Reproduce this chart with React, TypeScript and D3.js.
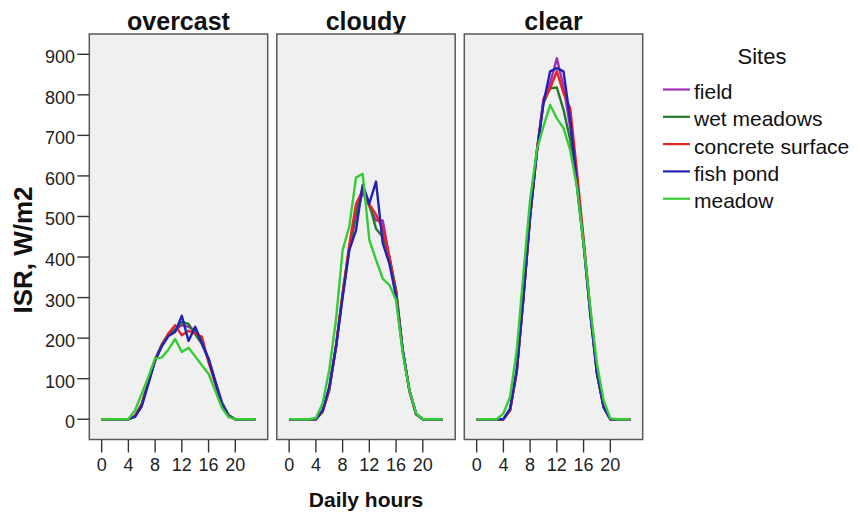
import * as d3 from 'd3';

const WIDTH = 862, HEIGHT = 515;

const hours = [0, 1, 2, 3, 4, 5, 6, 7, 8, 9, 10, 11, 12, 13, 14, 15, 16, 17, 18, 19, 20, 21, 22, 23];
const conditions = ['overcast', 'cloudy', 'clear'];
const sites = ['field', 'wet meadows', 'concrete surface', 'fish pond', 'meadow'];
const siteColors = ['#a02cb8', '#1e7a24', '#ea2228', '#2222b4', '#34cc34'];
const yTicks = [0, 100, 200, 300, 400, 500, 600, 700, 800, 900];
const xTicks = [0, 4, 8, 12, 16, 20];

// ISR by hour, one row per site
const overcast = [
    [0, 0, 0, 0, 0, 8, 38, 92, 145, 182, 208, 222, 232, 228, 218, 188, 150, 95, 42, 10, 0, 0, 0, 0],
    [0, 0, 0, 0, 0, 8, 38, 92, 148, 185, 210, 220, 240, 235, 210, 185, 148, 92, 40, 10, 0, 0, 0, 0],
    [0, 0, 0, 0, 0, 8, 36, 90, 145, 182, 212, 232, 207, 218, 212, 203, 140, 88, 36, 8, 0, 0, 0, 0],
    [0, 0, 0, 0, 0, 6, 32, 88, 145, 180, 205, 215, 255, 193, 228, 188, 148, 92, 38, 8, 0, 0, 0, 0],
    [0, 0, 0, 0, 0, 22, 63, 105, 150, 152, 172, 198, 166, 176, 155, 133, 112, 70, 28, 5, 0, 0, 0, 0],
];
const cloudy = [
    [0, 0, 0, 0, 0, 18, 72, 175, 305, 420, 500, 560, 525, 490, 490, 400, 315, 170, 70, 12, 0, 0, 0, 0],
    [0, 0, 0, 0, 0, 18, 72, 178, 310, 425, 510, 570, 530, 470, 450, 400, 320, 170, 70, 12, 0, 0, 0, 0],
    [0, 0, 0, 0, 0, 20, 75, 180, 310, 430, 530, 565, 530, 505, 470, 400, 310, 168, 70, 12, 0, 0, 0, 0],
    [0, 0, 0, 0, 0, 22, 80, 178, 300, 417, 466, 578, 532, 586, 434, 384, 302, 170, 72, 14, 0, 0, 0, 0],
    [0, 0, 0, 0, 3, 39, 121, 244, 417, 475, 596, 605, 442, 393, 347, 331, 294, 162, 72, 14, 0, 0, 0, 0],
];
const clear = [
    [0, 0, 0, 0, 0, 22, 118, 300, 500, 660, 790, 829, 890, 820, 720, 590, 440, 265, 115, 30, 0, 0, 0, 0],
    [0, 0, 0, 0, 0, 22, 118, 300, 500, 660, 780, 816, 818, 763, 689, 575, 430, 262, 112, 30, 0, 0, 0, 0],
    [0, 0, 0, 0, 0, 22, 118, 300, 500, 660, 785, 816, 858, 804, 767, 613, 445, 270, 118, 30, 0, 0, 0, 0],
    [0, 0, 0, 0, 0, 26, 121, 302, 500, 656, 780, 858, 866, 858, 738, 582, 434, 261, 113, 30, 0, 0, 0, 0],
    [0, 0, 0, 0, 14, 55, 170, 360, 541, 664, 722, 775, 742, 718, 664, 574, 434, 277, 137, 47, 2, 0, 0, 0],
];
const panels = [overcast, cloudy, clear];

const FONT = '"Liberation Sans", Arial, sans-serif';
const panelW = 178.4, panelStep = 187.5, panelLeft = 89.3;
const top = 34, bottom = 439.5;

const y = d3.scaleLinear().domain([-50, 950]).range([bottom, top]);

const App = () => {
    return (
        <svg width={WIDTH} height={HEIGHT} style={{ position: 'absolute', left: 0, top: 0 }} fontFamily={FONT}>
            <rect width={WIDTH} height={HEIGHT} fill="#fff" />
            {panels.map((series, p) => {
                const x0 = panelLeft + p * panelStep;
                const x = d3.scaleLinear().domain([-1.85, 24.85]).range([x0, x0 + panelW]);
                const line = d3.line<number>().x((_, i) => x(hours[i])).y((v) => y(v));
                return (
                    <g key={p}>
                        <text x={x0 + panelW / 2} y={30} textAnchor="middle" fontSize={25} fontWeight="bold" fill="#111">
                            {conditions[p]}
                        </text>
                        <rect x={x0} y={top} width={panelW} height={bottom - top} fill="#f0f0f0" stroke="#5a5a5a" strokeWidth={1.5} />
                        {series.map((vals, s) => (
                            <path key={s} d={line(vals) || ''} fill="none" stroke={siteColors[s]} strokeWidth={2.4} strokeLinejoin="round" />
                        ))}
                        {xTicks.map((t) => (
                            <g key={t}>
                                <line x1={x(t)} x2={x(t)} y1={bottom} y2={bottom + 13} stroke="#333" strokeWidth={1.4} />
                                <text x={x(t)} y={471} textAnchor="middle" fontSize={18} fill="#222">{t}</text>
                            </g>
                        ))}
                    </g>
                );
            })}
            {yTicks.map((t) => (
                <g key={t}>
                    <line x1={panelLeft - 12} x2={panelLeft} y1={y(t)} y2={y(t)} stroke="#333" strokeWidth={1.4} />
                    <text x={75} y={y(t) + 9} textAnchor="end" fontSize={18} fill="#222">{t}</text>
                </g>
            ))}
            <text transform="translate(32,250) rotate(-90)" textAnchor="middle" fontSize={26} fontWeight="bold" fill="#111">
                ISR, W/m2
            </text>
            <text x={panelLeft + panelStep + panelW / 2} y={507} textAnchor="middle" fontSize={21} fontWeight="bold" fill="#111">
                Daily hours
            </text>
            <text x={762} y={64} textAnchor="middle" fontSize={22} fill="#111">Sites</text>
            {sites.map((s, i) => (
                <g key={s}>
                    <line x1={663} x2={690} y1={89.5 + i * 27.3} y2={89.5 + i * 27.3} stroke={siteColors[i]} strokeWidth={2.2} />
                    <text x={694} y={99 + i * 27.3} fontSize={21} fill="#111">{s}</text>
                </g>
            ))}
        </svg>
    );
};

export default App;
